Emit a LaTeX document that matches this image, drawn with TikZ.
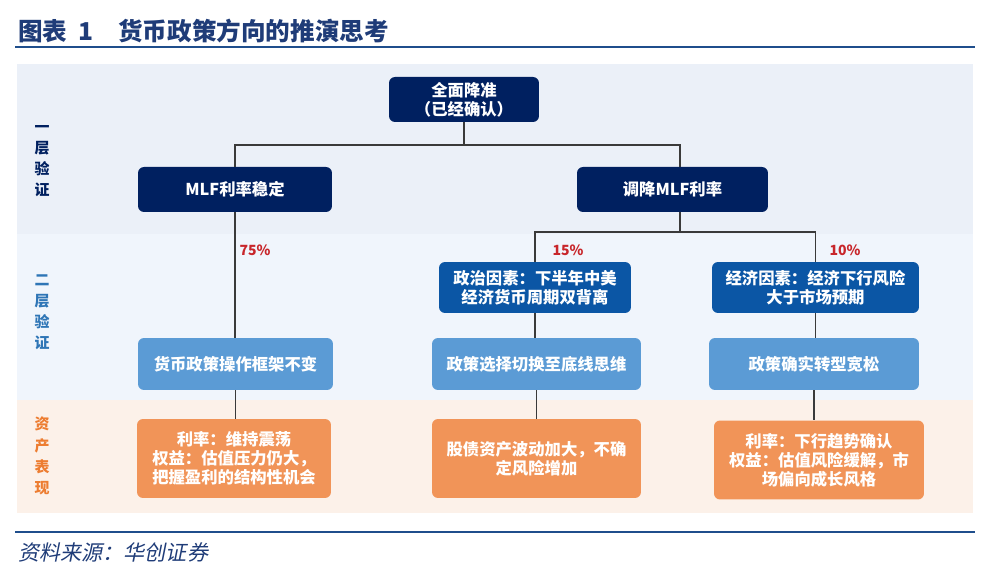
\documentclass[tikz,border=0pt]{standalone}
\usepackage{fontspec}
\setmainfont{Noto Sans CJK SC}
\newfontfamily\slantcjk[FakeSlant=0.2]{Noto Sans CJK SC}
\usepackage{tikz}
\usetikzlibrary{calc,positioning}
\definecolor{navy}{HTML}{002060}
\definecolor{midblue}{HTML}{0B56A5}
\definecolor{lightblue}{HTML}{5B9BD5}
\definecolor{orangebox}{HTML}{F19458}
\definecolor{bandone}{HTML}{EBF0F8}
\definecolor{bandtwo}{HTML}{F0F5FC}
\definecolor{bandthree}{HTML}{FCF1E9}
\definecolor{titleblue}{HTML}{1F3C78}
\definecolor{rulecol}{HTML}{1F4E8C}
\definecolor{pctred}{HTML}{C8262B}
\definecolor{linegray}{HTML}{3A3A3A}
\definecolor{lbltwo}{HTML}{2E75B6}
\definecolor{lblthree}{HTML}{ED7D31}
\tikzstyle{box} = [rectangle, rounded corners=0.12cm, text=white, align=center, inner sep=0pt, font=\bfseries\fontsize{9.3}{10.8}\selectfont]
\tikzstyle{link} = [draw=linegray, line width=0.7pt]
\tikzstyle{pct} = [text=pctred, font=\bfseries\fontsize{8}{9}\selectfont]
\tikzstyle{side} = [text width=1em, align=center, inner sep=0pt, font=\bfseries\fontsize{8.5}{12}\selectfont]

\begin{document}
\begin{tikzpicture}[x=0.02cm, y=-0.02cm]
\tikzset{%
	dark/.style = { box, fill=navy, minimum height=0.9cm },
	mid/.style = { box, fill=midblue, minimum height=1.02cm },
	light/.style = { box, fill=lightblue, minimum height=1.04cm },
	warm/.style = { box, fill=orangebox, minimum height=1.58cm }
}
\useasboundingbox (0,0) rectangle (994,580);

% title and rules
\node(tt1) [anchor=west, text=titleblue, font=\bfseries\fontsize{14}{15}\selectfont, inner sep=0pt] at (18,31) {图表\ \ 1};
\node(tt2) [anchor=west, text=titleblue, font=\bfseries\fontsize{14}{15}\selectfont, inner sep=0pt] at (118,31) {货币政策方向的推演思考};
\draw [rulecol, line width=1.5pt] (15,47) -- (975,47);
\draw [rulecol, line width=1.5pt] (15,532) -- (975,532);
\node(src) [anchor=west, text=titleblue, font=\slantcjk\fontsize{12}{13}\selectfont, inner sep=0pt] at (18,552) {资料来源：华创证券};

% bands
\fill [bandone] (17,64) rectangle (973,234);
\fill [bandtwo] (17,234) rectangle (973,400);
\fill [bandthree] (17,400) rectangle (973,513);

\node(sd1) [side, text=navy] at (42,161) {一\\层\\验\\证};
\node(sd2) [side, text=lbltwo] at (42,312) {二\\层\\验\\证};
\node(sd3) [side, text=lblthree] at (42,456) {资\\产\\表\\现};

% first layer
\node(ly0) [dark, minimum width=3cm] at (464,99.5) {全面降准\\（已经确认）};
\node(ly1a) [dark, minimum width=3.88cm] at (235,189.5) {MLF利率稳定};
\node(ly1b) [dark, minimum width=3.82cm] at (672.5,189.5) {调降MLF利率};

% second layer
\node(ly2b) [mid, minimum width=3.84cm] at (535,287.5) {政治因素：下半年中美\\经济货币周期双背离};
\node(ly2c) [mid, minimum width=4.14cm] at (815.5,287.5) {经济因素：经济下行风险\\大于市场预期};
\node(ly3a) [light, minimum width=3.9cm] at (235.5,364) {货币政策操作框架不变};
\node(ly3b) [light, minimum width=4.18cm] at (536.5,364) {政策选择切换至底线思维};
\node(ly3c) [light, minimum width=4.2cm] at (814,364) {政策确实转型宽松};

\node(p1) [pct] at (255,250) {75\%};
\node(p2) [pct] at (568,250) {15\%};
\node(p3) [pct] at (845,250) {10\%};

% assets
\node(as1) [warm, minimum width=3.88cm] at (234,458.5) {利率：维持震荡\\权益：估值压力仍大，\\把握盈利的结构性机会};
\node(as2) [warm, minimum width=4.18cm] at (536.5,458.5) {股债资产波动加大，不确\\定风险增加};
\node(as3) [warm, minimum width=4.2cm] at (819,460) {利率：下行趋势确认\\权益：估值风险缓解，市\\场偏向成长风格};

\coordinate (k1) at (464,145);
\coordinate (k2) at (680,232);
\draw [link] (ly0.south) -- (ly0.south |- k1);
\draw [link] (ly1a.north) |- (k1) -| (ly1b.north -| k2);
\draw [link] (ly1b.south -| k2) -- (k2);
\draw [link] (ly2b.north) |- (k2) -| (ly2c.north);
\draw [link] (ly1a.south) -- (ly1a.south |- ly3a.north);
\draw [link] (ly2b.south) -- (ly2b.south |- ly3b.north);
\draw [link] (ly2c.south) -- (ly2c.south |- ly3c.north);
\draw [link] (ly3a.south) -- (ly3a.south |- as1.north);
\draw [link] (ly3b.south) -- (ly3b.south |- as2.north);
\draw [link] (ly3c.south) -- (ly3c.south |- as3.north);
\end{tikzpicture}
\end{document}
